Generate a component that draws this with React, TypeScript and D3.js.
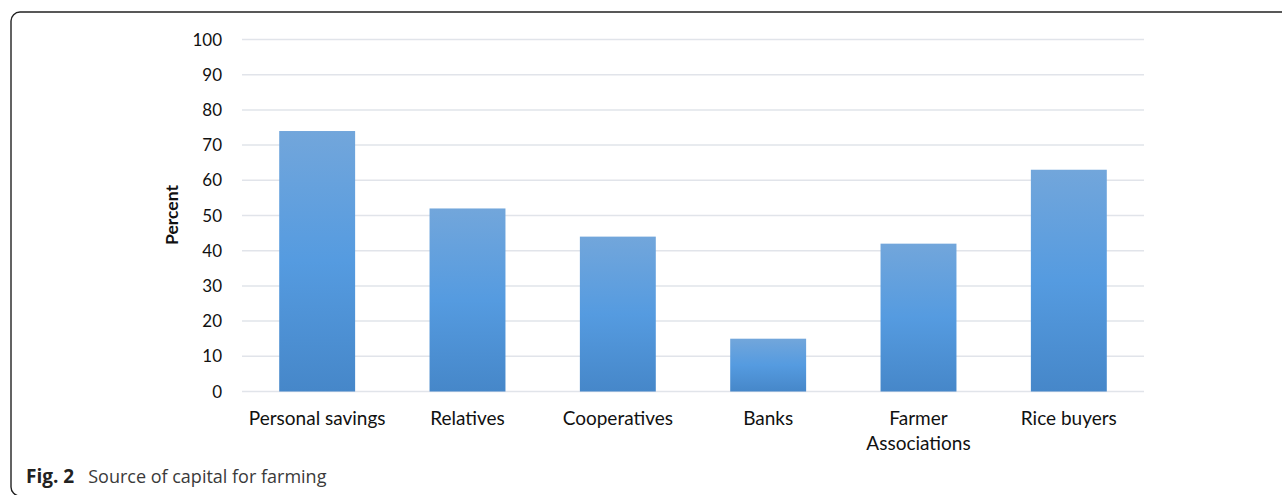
import React from "react";
import * as d3 from "d3";

const categories: string[][] = [
  ["Personal savings"],
  ["Relatives"],
  ["Cooperatives"],
  ["Banks"],
  ["Farmer", "Associations"],
  ["Rice buyers"],
];
const values: number[] = [74, 52, 44, 15, 42, 63];
const yTicks: number[] = [0, 10, 20, 30, 40, 50, 60, 70, 80, 90, 100];
const yLabel = "Percent";
const figLabel = "Fig. 2";
const figCaption = "Source of capital for farming";

const W = 1282;
const H = 495;
const plot = { left: 242, right: 1144, top: 39.5, bottom: 391.5 };

export default function App() {
  const keys = categories.map((c) => c.join(" "));
  const x = d3.scaleBand<string>().domain(keys).range([plot.left, plot.right]).paddingInner(0.495).paddingOuter(0.2475);
  const y = d3.scaleLinear().domain([0, 100]).range([plot.bottom, plot.top]);
  const font = "Lato, 'Open Sans', sans-serif";

  return (
    <svg width={W} height={H} style={{ position: "absolute", left: 0, top: 0 }}>
      <defs>
        <linearGradient id="barGrad" x1="0" y1="0" x2="0" y2="1">
          <stop offset="0%" stopColor="#72a6db" />
          <stop offset="50%" stopColor="#559be0" />
          <stop offset="100%" stopColor="#4687c9" />
        </linearGradient>
      </defs>
      <rect x={0} y={0} width={W} height={H} fill="#fff" />
      <rect x={11} y={12} width={1320} height={484} rx={9} ry={9} fill="none" stroke="#222" strokeWidth={1.4} />
      {yTicks.map((t) => (
        <g key={t}>
          <line x1={plot.left} x2={plot.right} y1={y(t)} y2={y(t)} stroke="#e1e4ea" strokeWidth={1.5} />
          <text x={222} y={y(t)} dy="0.36em" textAnchor="end" fontFamily={font} fontSize={17} fill="#111">
            {t}
          </text>
        </g>
      ))}
      {values.map((v, i) => (
        <rect
          key={keys[i]}
          x={x(keys[i])}
          y={y(v)}
          width={x.bandwidth()}
          height={y(0) - y(v)}
          fill="url(#barGrad)"
        />
      ))}
      {categories.map((lines, i) => (
        <text
          key={keys[i]}
          x={(x(keys[i]) as number) + x.bandwidth() / 2}
          y={425}
          textAnchor="middle"
          fontFamily={font}
          fontSize={19}
          fill="#111"
        >
          {lines.map((l, j) => (
            <tspan key={j} x={(x(keys[i]) as number) + x.bandwidth() / 2} dy={j === 0 ? 0 : 25}>
              {l}
            </tspan>
          ))}
        </text>
      ))}
      <text
        transform={`translate(178,215) rotate(-90)`}
        textAnchor="middle"
        fontFamily={font}
        fontWeight="bold"
        fontSize={17.5}
        fill="#111"
      >
        {yLabel}
      </text>
      <text x={26} y={483} fontFamily="'Open Sans', 'Noto Sans', sans-serif" fontSize={18} fill="#3a3a3a">
        <tspan fontWeight="bold" fontSize={19} fill="#222">{figLabel}</tspan>
        <tspan dx={14}>{figCaption}</tspan>
      </text>
    </svg>
  );
}
